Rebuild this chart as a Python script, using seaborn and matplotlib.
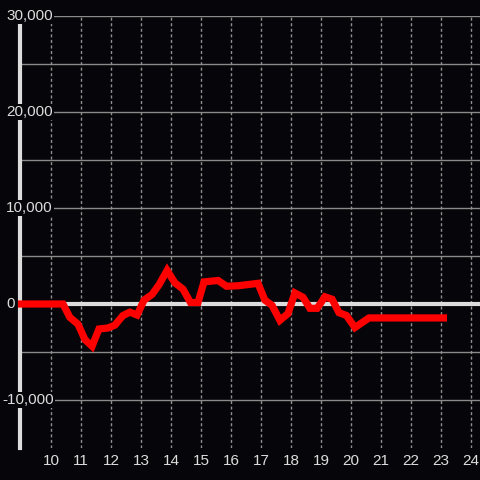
import matplotlib
matplotlib.use("Agg")
import matplotlib.pyplot as plt
import seaborn as sns
import pandas as pd

# values
hours = [8.9, 10.4, 10.63, 10.9, 11.13, 11.37, 11.6, 11.9, 12.13, 12.4, 12.63, 12.87,
         13.1, 13.37, 13.6, 13.87, 14.13, 14.4, 14.65, 14.9, 15.1, 15.57, 15.85, 16.23,
         16.9, 17.13, 17.37, 17.63, 17.9, 18.13, 18.4, 18.63, 18.87, 19.13, 19.37, 19.6,
         19.85, 20.13, 20.6, 23.2]
balance = [0, 0, -1400, -2100, -3700, -4400, -2600, -2500, -2200, -1200, -850, -1150,
           400, 1000, 2000, 3500, 2200, 1550, 150, 150, 2300, 2450, 1850, 1900,
           2150, 400, -150, -1700, -1000, 1150, 700, -450, -450, 750, 500, -900,
           -1200, -2450, -1450, -1450]
x_ticks = list(range(10, 25))
y_labels = [30000, 20000, 10000, 0, -10000]
y_grid = [25000, 20000, 15000, 10000, 5000, -5000, -10000, 30000]

bg = "#060509"
fg = "#dddddd"

sns.set_theme(style="dark")
plt.rcParams["font.family"] = ["Liberation Sans", "DejaVu Sans"]

fig = plt.figure(figsize=(4.8, 4.8), dpi=100, facecolor=bg)
ax = fig.add_axes([20 / 480, 32 / 480, 460 / 480, 432 / 480])
ax.set_facecolor(bg)

ax.set_xlim(8.967, 24.3)
ax.set_ylim(-15000, 30000)

# grid
for v in y_grid:
    ax.axhline(v, color="#8a8a8a", lw=1, zorder=1)
for t in x_ticks:
    ax.axvline(t, color="#8f8f8f", lw=1, ls=(0, (2.2, 1.8)), zorder=1)
ax.axhline(0, color=fg, lw=3, zorder=2)

df = pd.DataFrame({"hour": hours, "balance": balance})
sns.lineplot(data=df, x="hour", y="balance", color="#ff0000", lw=5.2, ax=ax,
             zorder=5, clip_on=False, solid_capstyle="butt", solid_joinstyle="miter")

for s in ["top", "right", "bottom"]:
    ax.spines[s].set_visible(False)
ax.spines["left"].set_color(fg)
ax.spines["left"].set_linewidth(3)
ax.spines["left"].set_zorder(3)

ax.set_xticks(x_ticks)
ax.set_xticklabels([str(t) for t in x_ticks], color=fg, fontsize=11)
ax.tick_params(axis="x", length=0, pad=4)
ax.set_yticks([])
ax.set_xlabel("")
ax.set_ylabel("")

# y labels drawn over the axis with a background box
for v in y_labels:
    xpx = 2 if v < 0 else 6
    ax.annotate(f"{v:,}", xy=(0, v), xycoords=("axes fraction", "data"),
                xytext=(xpx - 20, 0), textcoords="offset pixels",
                ha="left", va="center", color=fg, fontsize=11, zorder=6,
                annotation_clip=False,
                bbox=dict(facecolor=bg, edgecolor="none", pad=1))

fig.savefig("out.png", dpi=100, facecolor=bg)
